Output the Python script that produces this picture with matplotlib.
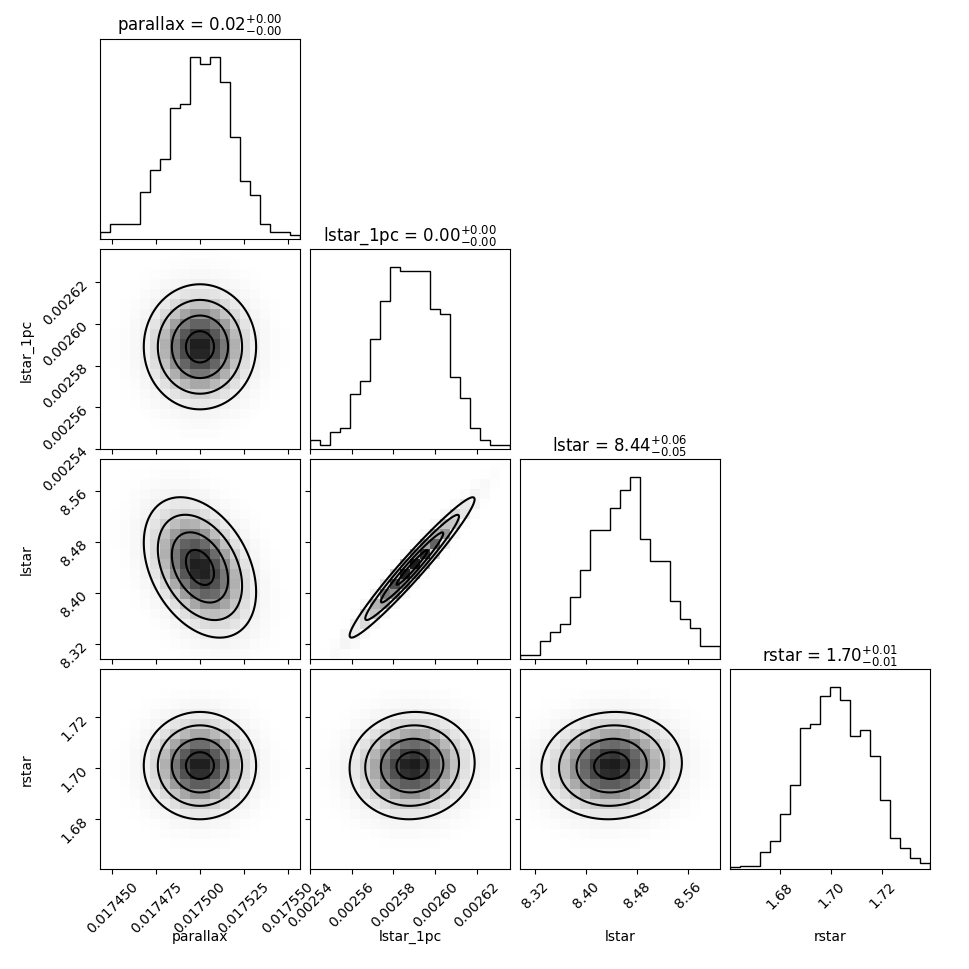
import numpy as np
import matplotlib.pyplot as plt

labels = ['parallax', 'lstar_1pc', 'lstar', 'rstar']
titles = [r'parallax = $0.02^{+0.00}_{-0.00}$', r'lstar_1pc = $0.00^{+0.00}_{-0.00}$',
          r'lstar = $8.44^{+0.06}_{-0.05}$', r'rstar = $1.70^{+0.01}_{-0.01}$']
ranges = [(0.017443, 0.017557), (0.002540, 0.002636), (8.2965, 8.610), (1.6605, 1.7388)]
ticks = [[0.017450, 0.017475, 0.017500, 0.017525, 0.017550],
         [0.00254, 0.00256, 0.00258, 0.00260, 0.00262],
         [8.32, 8.40, 8.48, 8.56],
         [1.68, 1.70, 1.72]]
tick_fmt = ['%.6f', '%.5f', '%.2f', '%.2f']
# estimated centres / widths of the marginals
means = [0.017500, 0.002589, 8.440, 1.701]
sds = [0.0000160, 0.0000150, 0.055, 0.0105]
corr = np.array([[1.0, 0.0, -0.35, 0.0],
                 [0.0, 1.0, 0.97, 0.05],
                 [-0.35, 0.97, 1.0, 0.05],
                 [0.0, 0.05, 0.05, 1.0]])
# 1D histogram heights (20 bins across each range)
hist1d = [
    [2, 4, 4, 4, 13, 19, 22, 36, 37, 50, 48, 50, 43, 28, 16, 12, 4, 2, 2, 1],
    [2, 1, 4, 5, 13, 16, 26, 35, 43, 42, 42, 42, 33, 32, 17, 12, 5, 2, 1, 1],
    [1, 1, 4, 6, 8, 14, 20, 29, 29, 34, 38, 41, 27, 22, 22, 13, 9, 7, 3, 3],
    [5, 8, 8, 50, 85, 165, 252, 422, 435, 520, 545, 508, 400, 417, 338, 208, 92, 62, 32, 18],
]

n = len(labels)
fig, axes = plt.subplots(n, n, figsize=(9.7, 9.7), dpi=100)
fig.subplots_adjust(left=0.103, right=0.959, bottom=0.103, top=0.959, wspace=0.05, hspace=0.05)
sig_levels = 1.0 - np.exp(-0.5 * np.arange(0.5, 2.1, 0.5) ** 2)

for i in range(n):
    for j in range(n):
        ax = axes[i, j]
        if j > i:
            ax.set_visible(False)
            continue
        if i == j:
            edges = np.linspace(ranges[i][0], ranges[i][1], 21)
            h = np.array(hist1d[i], float)
            ax.stairs(h, edges, color='k', lw=1)
            ax.set_xlim(ranges[i])
            ax.set_ylim(0, 1.1 * h.max())
            ax.set_yticks([])
            ax.set_title(titles[i], fontsize=12)
        else:
            # bivariate normal density on grid from the estimates
            mx, my = means[j], means[i]
            sx, sy = sds[j], sds[i]
            r = corr[i, j]
            def dens(X, Y):
                u = (X - mx) / sx
                v = (Y - my) / sy
                return np.exp(-(u * u - 2 * r * u * v + v * v) / (2 * (1 - r * r)))
            xe = np.linspace(*ranges[j], 21)
            ye = np.linspace(*ranges[i], 21)
            XC, YC = np.meshgrid(0.5 * (xe[1:] + xe[:-1]), 0.5 * (ye[1:] + ye[:-1]))
            ax.pcolormesh(xe, ye, dens(XC, YC), cmap='Greys', vmin=0.0, vmax=1.1, shading='flat')
            xf = np.linspace(*ranges[j], 200)
            yf = np.linspace(*ranges[i], 200)
            XF, YF = np.meshgrid(xf, yf)
            lv = np.sort(np.exp(-0.5 * (-2 * np.log(1 - sig_levels))))
            ax.contour(XF, YF, dens(XF, YF), levels=lv, colors='k', linewidths=1.5)
            ax.set_xlim(ranges[j])
            ax.set_ylim(ranges[i])
            ax.set_yticks(ticks[i])
            if j == 0:
                ax.set_yticklabels([tick_fmt[i] % t for t in ticks[i]], rotation=45)
                ax.set_ylabel(labels[i])
                ax.yaxis.set_label_coords(-0.33, 0.5)
            else:
                ax.set_yticklabels([])
        ax.set_xticks(ticks[j])
        if i == n - 1:
            ax.set_xticklabels([tick_fmt[j] % t for t in ticks[j]], rotation=45)
            ax.set_xlabel(labels[j])
            ax.xaxis.set_label_coords(0.5, -0.3)
        else:
            ax.set_xticklabels([])

fig.savefig('out.png', dpi=100)
